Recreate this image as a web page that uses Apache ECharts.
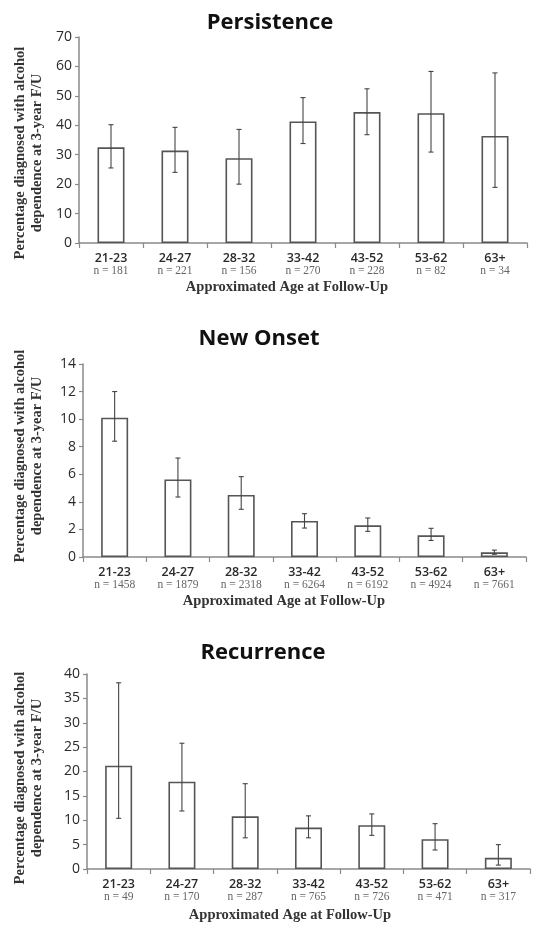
<!DOCTYPE html>
<html><head><meta charset="utf-8">
<script src="https://cdn.jsdelivr.net/npm/echarts@6/dist/echarts.min.js"></script>
<style>html,body{margin:0;padding:0;background:#fff}#c{width:533px;height:927px}</style>
</head><body><div id="c"></div>
<script>
const categories = ['21-23','24-27','28-32','33-42','43-52','53-62','63+'];

const persistN = ['181','221','156','270','228','82','34'];
const persistVal = [32.5, 31.4, 28.8, 41.3, 44.5, 44.1, 36.4];
const persistLow = [25.5, 24.0, 20.0, 33.8, 36.8, 30.9, 18.9];
const persistHigh = [40.2, 39.3, 38.6, 49.4, 52.4, 58.3, 57.8];

const onsetN = ['1458','1879','2318','6264','6192','4924','7661'];
const onsetVal = [10.1, 5.63, 4.5, 2.61, 2.3, 1.57, 0.34];
const onsetLow = [8.4, 4.35, 3.46, 2.1, 1.86, 1.2, 0.2];
const onsetHigh = [12.0, 7.18, 5.83, 3.14, 2.83, 2.08, 0.5];

const recurN = ['49','170','287','765','726','471','317'];
const recurVal = [21.2, 17.9, 10.8, 8.5, 9.0, 6.1, 2.3];
const recurLow = [10.4, 11.9, 6.4, 6.4, 6.9, 3.9, 0.8];
const recurHigh = [38.2, 25.8, 17.5, 10.9, 11.3, 9.3, 5.0];

const titles = ['Persistence', 'New Onset', 'Recurrence'];
const yMax = [70, 14, 40];
const yStep = [10, 2, 5];
const yName = 'Percentage diagnosed with alcohol\ndependence at 3-year F/U';
const xName = 'Approximated Age at Follow-Up';

const panels = [
  {n: persistN, v: persistVal, lo: persistLow, hi: persistHigh},
  {n: onsetN, v: onsetVal, lo: onsetLow, hi: onsetHigh},
  {n: recurN, v: recurVal, lo: recurLow, hi: recurHigh}
];

const grids = [
  {left: 79, top: 37, width: 448, height: 206},
  {left: 83, top: 364, width: 443, height: 193},
  {left: 87, top: 674, width: 443, height: 195}
];
const titlePos = [[270, 23], [259, 339], [263, 653]];
const yNamePos = [[29, 153], [29, 456], [29, 778]];
const xNamePos = [[287, 287], [284, 601], [290, 915]];

const chart = echarts.init(document.getElementById('c'));
const xAxes = [], yAxes = [], series = [], graphics = [];
panels.forEach((p, gi) => {
  xAxes.push({
    type: 'category', gridIndex: gi, data: categories,
    axisLine: {lineStyle: {color: '#8a8a8a', width: 1.5}},
    axisTick: {show: true, length: 5, lineStyle: {color: '#8a8a8a', width: 1.2}},
    axisLabel: {
      margin: 9, interval: 0,
      formatter: (val, idx) => '{a|' + val + '}\n{b|n = ' + p.n[idx] + '}',
      rich: {
        a: {fontFamily: 'Open Sans', fontSize: 12.5, fontWeight: 600, color: '#2a2a2a', lineHeight: 13},
        b: {fontFamily: 'Liberation Serif', fontSize: 11.5, color: '#666', lineHeight: 11}
      }
    }
  });
  yAxes.push({
    type: 'value', gridIndex: gi, min: 0, max: yMax[gi], interval: yStep[gi],
    splitLine: {show: false},
    axisLine: {show: true, lineStyle: {color: '#8a8a8a', width: 1.5}},
    axisTick: {show: true, length: 4, lineStyle: {color: '#8a8a8a', width: 1.2}},
    axisLabel: {fontFamily: 'Open Sans', fontSize: 14, color: '#2a2a2a', margin: 7}
  });
  series.push({
    type: 'bar', xAxisIndex: gi, yAxisIndex: gi, data: p.v, barWidth: 27,
    itemStyle: {color: '#fff', borderColor: '#555', borderWidth: 1.6},
    silent: true
  });
  series.push({
    type: 'custom', xAxisIndex: gi, yAxisIndex: gi,
    data: p.v.map((v, i) => [i, p.lo[i], p.hi[i]]),
    encode: {x: 0, y: [1, 2]},
    renderItem: (params, api) => {
      const lo = api.coord([api.value(0), api.value(1)]);
      const hi = api.coord([api.value(0), api.value(2)]);
      const w = 2.5;
      const st = {stroke: '#444', lineWidth: 1.1};
      return {type: 'group', children: [
        {type: 'line', shape: {x1: lo[0], y1: lo[1], x2: hi[0], y2: hi[1]}, style: st},
        {type: 'line', shape: {x1: hi[0] - w, y1: hi[1], x2: hi[0] + w, y2: hi[1]}, style: st},
        {type: 'line', shape: {x1: lo[0] - w, y1: lo[1], x2: lo[0] + w, y2: lo[1]}, style: st}
      ]};
    },
    z: 5, silent: true
  });
  graphics.push({
    type: 'text', x: titlePos[gi][0], y: titlePos[gi][1],
    style: {text: titles[gi], font: 'bold 22px "Open Sans"', fill: '#111', textAlign: 'center', textVerticalAlign: 'middle'}
  });
  graphics.push({
    type: 'text', x: yNamePos[gi][0], y: yNamePos[gi][1], rotation: Math.PI / 2,
    style: {text: yName, font: 'bold 14.5px "Liberation Serif"', fill: '#333', textAlign: 'center', textVerticalAlign: 'middle', lineHeight: 17}
  });
  graphics.push({
    type: 'text', x: xNamePos[gi][0], y: xNamePos[gi][1],
    style: {text: xName, font: 'bold 14.5px "Liberation Serif"', fill: '#333', textAlign: 'center', textVerticalAlign: 'middle'}
  });
});

chart.setOption({
  animation: false,
  backgroundColor: '#fff',
  grid: grids,
  xAxis: xAxes,
  yAxis: yAxes,
  series: series,
  graphic: graphics
});
</script>
</body></html>
